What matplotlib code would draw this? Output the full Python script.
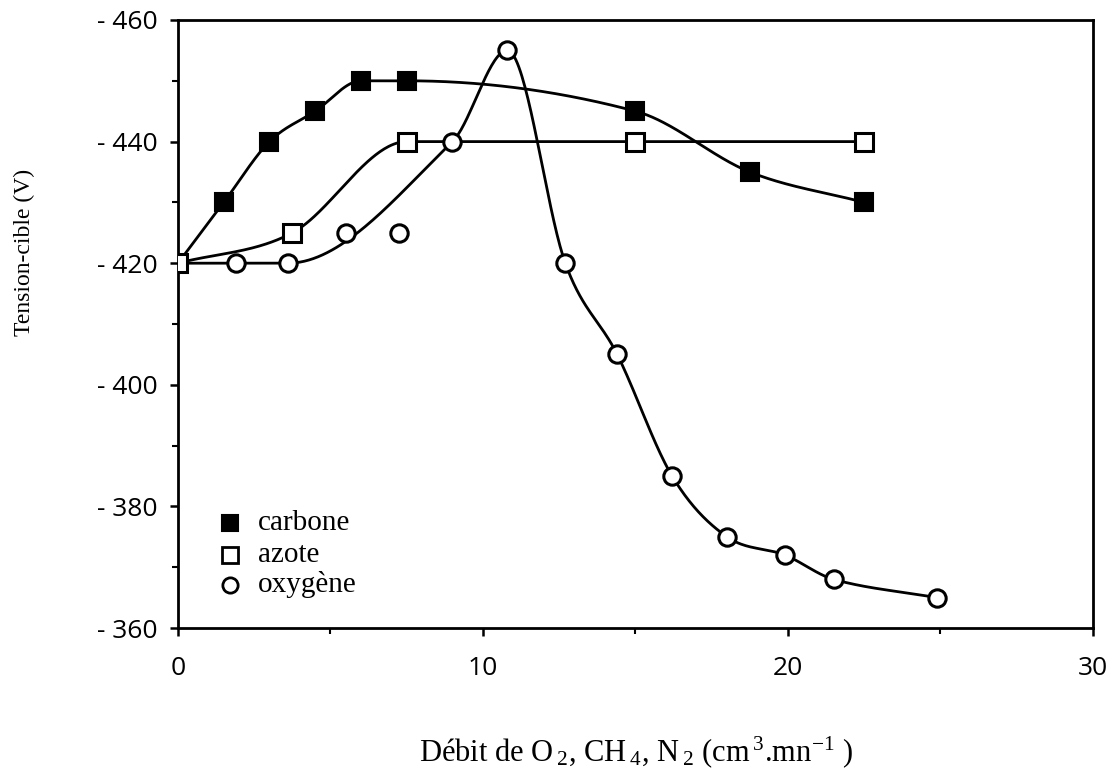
import numpy as np
import matplotlib
matplotlib.use("Agg")
import matplotlib.pyplot as plt
from matplotlib.ticker import FuncFormatter, MultipleLocator

plt.rcParams['font.family'] = ['Liberation Serif', 'DejaVu Serif']
plt.rcParams['mathtext.fontset'] = 'custom'
plt.rcParams['mathtext.rm'] = 'Liberation Serif'
plt.rcParams['mathtext.it'] = 'Liberation Serif:italic'

# Data (target voltage shown as negative values)
start_x = 0.0
start_y = 420

carbone_x = [1.5, 3.0, 4.5, 6.0, 7.5, 15.0, 18.75, 22.5]
carbone_y = [430, 440, 445, 450, 450, 445, 435, 430]

azote_x = [0.0, 3.75, 7.5, 15.0, 22.5]
azote_y = [420, 425, 440, 440, 440]

oxygene_x = [1.9, 3.6, 5.5, 7.25, 9.0, 10.8, 12.7, 14.4, 16.2, 18.0, 19.9, 21.5, 24.9]
oxygene_y = [420, 420, 425, 425, 440, 455, 420, 405, 385, 375, 372, 368, 365]
# the two points at 5.5 and 7.25 are left off the fitted curve
oxygene_on_curve = [True, True, False, False, True, True, True, True, True, True, True, True, True]

legend_labels = ['carbone', 'azote', 'oxygène']


# Smooth curve through the points: cubic Hermite, central-difference
# tangents limited so that flat / turning points stay flat
def smooth(x, y, n=500):
    x = np.asarray(x, float)
    y = np.asarray(y, float)
    h = np.diff(x)
    d = np.diff(y) / h
    m = np.zeros_like(x)
    for k in range(1, len(x) - 1):
        if d[k - 1] * d[k] > 0:
            c = (y[k + 1] - y[k - 1]) / (x[k + 1] - x[k - 1])
            lim = 3 * min(abs(d[k - 1]), abs(d[k]))
            m[k] = np.sign(c) * min(abs(c), lim)
    m[0] = d[0]
    m[-1] = d[-1]
    xs = np.linspace(x[0], x[-1], n)
    idx = np.clip(np.searchsorted(x, xs) - 1, 0, len(h) - 1)
    t = (xs - x[idx]) / h[idx]
    h00 = 2 * t**3 - 3 * t**2 + 1
    h10 = t**3 - 2 * t**2 + t
    h01 = -2 * t**3 + 3 * t**2
    h11 = t**3 - t**2
    ys = h00 * y[idx] + h10 * h[idx] * m[idx] + h01 * y[idx + 1] + h11 * h[idx] * m[idx + 1]
    return xs, ys


fig = plt.figure(figsize=(11.18, 7.72), dpi=100)
ax = fig.add_axes([0.1592, 0.1865, 0.8184, 0.7876])

lw = 2.0
ms = 12.5

# curves
cx, cy = smooth([start_x] + carbone_x, [start_y] + carbone_y)
ax.plot(cx, cy, color='black', lw=lw, zorder=2)
nx, ny = smooth(azote_x, azote_y)
ax.plot(nx, ny, color='black', lw=lw, zorder=2)
ox_c = [start_x] + [x for x, k in zip(oxygene_x, oxygene_on_curve) if k]
oy_c = [start_y] + [y for y, k in zip(oxygene_y, oxygene_on_curve) if k]
ox, oy = smooth(ox_c, oy_c)
ax.plot(ox, oy, color='black', lw=lw, zorder=2)

# markers
ax.plot(carbone_x, carbone_y, ls='none', marker='s', ms=ms, mfc='black', mec='black', mew=1.5, zorder=3)
ax.plot(oxygene_x, oxygene_y, ls='none', marker='o', ms=ms, mfc='white', mec='black', mew=2.2, zorder=3)
ax.plot(azote_x, azote_y, ls='none', marker='s', ms=ms, mfc='white', mec='black', mew=2.2, zorder=4)

ax.set_xlim(0, 30)
ax.set_ylim(360, 460)
ax.xaxis.set_major_locator(MultipleLocator(10))
ax.xaxis.set_minor_locator(MultipleLocator(5))
ax.yaxis.set_major_locator(MultipleLocator(20))
ax.yaxis.set_minor_locator(MultipleLocator(10))
ax.yaxis.set_major_formatter(FuncFormatter(lambda v, p: '- %d' % v))

for s in ax.spines.values():
    s.set_linewidth(2.0)
ax.tick_params(which='major', direction='out', length=5.5, width=1.8, labelsize=19)
ax.tick_params(axis='y', which='major', pad=9)
ax.tick_params(axis='x', which='major', pad=15)
ax.tick_params(which='minor', direction='out', length=4, width=1.5)
for lab in ax.get_xticklabels() + ax.get_yticklabels():
    lab.set_fontfamily(['Open Sans', 'DejaVu Sans'])

ax.set_xlabel('Débit de O$\\,_2$, CH$\\,_4$, N$\\,_2$ (cm$\\,^3$.mn$^{\\mathregular{-1}}$ )',
              fontsize=22)
ax.xaxis.set_label_coords(0.5, -0.174)
ax.set_ylabel('Tension-cible (V)', fontsize=17)
ax.yaxis.set_label_coords(-0.156, 0.618)

# legend drawn by hand to match the original placement
leg_styles = [
    dict(marker='s', mfc='black', mec='black', mew=1.5),
    dict(marker='s', mfc='white', mec='black', mew=2.0),
    dict(marker='o', mfc='white', mec='black', mew=2.0),
]
leg_y = [0.1727, 0.12, 0.0707]
for lab, st, yy in zip(legend_labels, leg_styles, leg_y):
    ax.plot([0.057], [yy], transform=ax.transAxes, ls='none', ms=11, clip_on=False, **st)
    ax.text(0.087, yy - 0.0115, lab, transform=ax.transAxes, fontsize=21, va='baseline', ha='left')

fig.savefig('out.png', dpi=100)
